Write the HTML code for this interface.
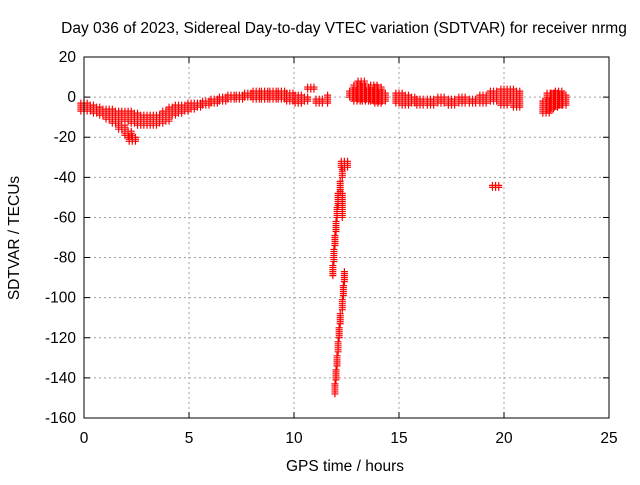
<!DOCTYPE html>
<html><head><meta charset="utf-8"><style>
body{margin:0;background:#fff}
svg text{font-family:"Liberation Sans",sans-serif;font-size:15.5px;fill:#000}
</style></head><body>
<svg id="chart" width="640" height="480">
<text x="344" y="33" text-anchor="middle">Day 036 of 2023, Sidereal Day-to-day VTEC variation (SDTVAR) for receiver nrmg</text>
<g id="grid"></g><g id="ticks"></g><g id="marks"></g>
<rect x="84" y="57" width="525" height="361" fill="none" stroke="#000" stroke-width="1"/>
<text x="345" y="471" text-anchor="middle">GPS time / hours</text>
<text transform="translate(19,238) rotate(-90)" text-anchor="middle">SDTVAR / TECUs</text>
</svg>
<script>
const xTicks=[0,5,10,15,20,25];
const yTicks=[20,0,-20,-40,-60,-80,-100,-120,-140,-160];
const segT=[0,0.3,0.6,0.9,1.2,1.5,1.8,2.1,2.4,2.7,3.0,3.3,3.6,3.9,4.2,4.5,4.8,5.1,5.4,
1.2,1.5,1.8,2.1,2.3,
5.8,6.2,6.6,7.0,7.4,7.8,8.2,8.6,9.0,9.4,9.8,10.2,10.5,10.8,11.2,11.6,
12.4,12.3,12.2,12.1,12.05,12.0,11.95,11.9,11.85,12.3,
12.4,12.35,12.3,12.2,12.15,12.1,12.05,12.0,11.95,
12.8,13.0,13.2,13.4,13.6,13.8,14.0,14.2,
15.0,15.3,15.6,16.0,16.5,17,17.5,18,18.5,19,19.5,20.0,20.3,20.6,19.6,
22.0,22.2,22.4,22.6,22.8];
const segLo=[-7,-7,-8,-9,-10,-10,-11,-12,-13,-14,-14,-14,-13,-12,-9,-8,-7,-6,-5,
-11,-13,-16,-19,-22,
-4,-3,-2,-1,-1,0,-1,-1,-1,-1,-2,-3,-2,4,-3,-3,
-35,-40,-47,-54,-60,-67,-74,-82,-89,-60,
-92,-99,-106,-113,-120,-127,-134,-141,-148,
0,-2,-1,-2,-1,-2,-3,-2,
-3,-4,-3,-4,-4,-3,-4,-3,-3,-3,-2,-4,-1,-5,-45,
-8,-6,-5,-4,-4];
const segHi=[-3,-4,-5,-6,-6,-7,-7,-7,-8,-9,-9,-9,-9,-7,-5,-4,-4,-3,-3,
-9,-11,-14,-17,-20,
-2,-1,0,1,1,2,3,3,3,3,2,1,0,5,-1,1,
-32,-36,-42,-48,-55,-62,-69,-76,-84,-48,
-87,-94,-101,-108,-115,-122,-129,-136,-143,
3,6,8,5,3,6,5,2,
2,1,0,-1,-1,0,-1,0,-1,1,3,4,4,3,-44,
-2,2,2,3,1];
const NS="http://www.w3.org/2000/svg";
const X=t=>84+t*21, Y=v=>57+(20-v)*361/180;
const grid=document.getElementById('grid'),ticks=document.getElementById('ticks'),marks=document.getElementById('marks');
function mk(tag,attrs,parent){const e=document.createElementNS(NS,tag);for(const k in attrs)e.setAttribute(k,attrs[k]);parent.appendChild(e);return e;}
xTicks.forEach(t=>{
 if(t>0&&t<25){const g=mk('line',{x1:X(t),x2:X(t),y1:57,y2:418,stroke:'#a0a0a0','stroke-dasharray':'2,3'},grid);
 
 }
 const tk=mk('path',{d:`M${X(t)},418v-6M${X(t)},57v6`,stroke:'#000'},ticks);
 
 
 const lb=mk('text',{x:X(t),y:443,'text-anchor':'middle'},ticks);lb.textContent=t;
 
 
});
yTicks.forEach(v=>{
 if(v<20&&v>-160){const g=mk('line',{x1:84,x2:609,y1:Y(v),y2:Y(v),stroke:'#a0a0a0','stroke-dasharray':'2,3'},grid);
 
 }
 const tk=mk('path',{d:`M84,${Y(v)}h6M609,${Y(v)}h-6`,stroke:'#000'},ticks);
 
 
 const lb=mk('text',{x:76,y:Y(v)+5,'text-anchor':'end'},ticks);lb.textContent=v;
 
 
});
let d='';
segT.forEach((t,i)=>{
 const tall=(segHi[i]-segLo[i])>=4 && t>11.5 && t<12.6;
 const offs=tall?[0]:[-0.15,0,0.15];
 for(let v=segLo[i];v<=segHi[i]+0.01;v+=1){
  offs.forEach(dt=>{
   const x=X(t+dt),y=Y(v);d+=`M${x-3.5},${y}h7M${x},${y-3.5}v7`;
  });
 }
});
const p=mk('path',{d:d,stroke:'#ff0000','stroke-width':1.2,fill:'none'},marks);


</script>
</body></html>
